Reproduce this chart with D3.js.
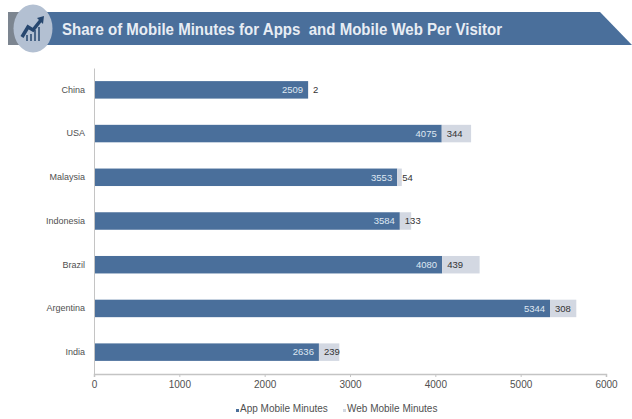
<!DOCTYPE html>
<html>
<head>
<meta charset="utf-8">
<script src="https://cdnjs.cloudflare.com/ajax/libs/d3/7.8.5/d3.min.js"></script>
<style>
html,body{margin:0;padding:0;background:#fff}
text{font-family:"Liberation Sans",Arial,sans-serif}
</style>
</head>
<body>
<svg id="chart" width="632" height="419"></svg>
<script>
const countries = ["China","USA","Malaysia","Indonesia","Brazil","Argentina","India"];
const appMinutes = [2509,4075,3553,3584,4080,5344,2636];
const webMinutes = [2,344,54,133,439,308,239];
const xTicks = [0,1000,2000,3000,4000,5000,6000];
const seriesNames = ["App Mobile Minutes","Web Mobile Minutes"];
const chartTitle = "Share of Mobile Minutes for Apps  and Mobile Web Per Visitor";

const svg = d3.select("#chart");
const x = d3.scaleLinear().domain([0,6000]).range([94,606]);
const y = d3.scaleBand().domain(countries).range([68,374]).paddingInner(0.6).paddingOuter(0.3);
const appColor = "#4a6f9b", webColor = "#d3d8e2", axisColor = "#c4c4c4", textColor = "#505050";

// Title banner with the slanted right edge
svg.append("rect").attr("x",8).attr("y",12).attr("width",20).attr("height",33).attr("fill","#7c8590");
svg.append("path").attr("d","M30,12 L600,12 L632,45 L30,45 Z").attr("fill",appColor);
svg.append("ellipse").attr("cx",33).attr("cy",28.5).attr("rx",19.5).attr("ry",24).attr("fill","#b3c0d2");
svg.append("path").attr("d","M22,37 L28,27 L33,30 L41,20").attr("fill","none")
  .attr("stroke","#27476f").attr("stroke-width",3.5);
svg.append("path").attr("d","M37,18 L44,16 L43,24 Z").attr("fill","#27476f");
svg.append("path").attr("d","M27,41 V35 M31,41 V34 M35,41 V30 M39,41 V27").attr("stroke","#27476f")
  .attr("stroke-width",1.5).attr("fill","none");
svg.append("text").attr("x",62).attr("y",35).attr("fill","#e8edf4")
  .attr("font-size",16).attr("font-weight","bold").attr("textLength",440)
  .attr("lengthAdjust","spacingAndGlyphs").attr("xml:space","preserve").text(chartTitle);

// Stacked bars
const rows = svg.append("g").selectAll("g").data(countries).join("g");
rows.append("rect").attr("x",x(0)).attr("y",c=>y(c)).attr("height",y.bandwidth())
  .attr("width",(c,i)=>x(appMinutes[i])-x(0)).attr("fill",appColor);
rows.append("rect").attr("x",(c,i)=>x(appMinutes[i])).attr("y",c=>y(c)).attr("height",y.bandwidth())
  .attr("width",(c,i)=>x(webMinutes[i])-x(0)).attr("fill",webColor);

// Value labels just inside the app segment end and just past the web segment start
rows.append("text").attr("x",(c,i)=>x(appMinutes[i])-5).attr("y",c=>y(c)+y.bandwidth()/2)
  .attr("dy","0.35em").attr("text-anchor","end").attr("font-size",9.5).attr("fill","#dfe7f2")
  .text((c,i)=>appMinutes[i]);
rows.append("text").attr("x",(c,i)=>x(appMinutes[i])+5)
  .attr("y",c=>y(c)+y.bandwidth()/2).attr("dy","0.35em").attr("text-anchor","start")
  .attr("font-size",9.5).attr("fill","#333").text((c,i)=>webMinutes[i]);

// Category axis
const yAxis = svg.append("g").attr("transform",`translate(${x(0)},0)`)
  .call(d3.axisLeft(y).tickSize(0).tickPadding(9));
yAxis.select(".domain").attr("stroke",axisColor);
yAxis.selectAll("text").attr("font-size",9).attr("fill",textColor).style("font-family","'Liberation Sans',sans-serif");

// Value axis
const xAxis = svg.append("g").attr("transform","translate(0,374)")
  .call(d3.axisBottom(x).tickValues(xTicks).tickFormat(d3.format("d")).tickSize(3).tickPadding(4));
xAxis.selectAll(".domain,line").attr("stroke",axisColor);
xAxis.select(".domain").attr("stroke-width",1.5);
xAxis.selectAll("text").attr("font-size",10).attr("fill",textColor).style("font-family","'Liberation Sans',sans-serif");

// Legend
const legendX = [240,347];
const legend = svg.append("g").selectAll("g").data(seriesNames).join("g")
  .attr("transform",(d,i)=>`translate(${legendX[i]},412)`);
legend.append("rect").attr("x",-4).attr("y",-3).attr("width",3).attr("height",3)
  .attr("fill",(d,i)=>i?webColor:appColor);
legend.append("text").attr("font-size",10).attr("fill",textColor).text(d=>d);
</script>
</body>
</html>
